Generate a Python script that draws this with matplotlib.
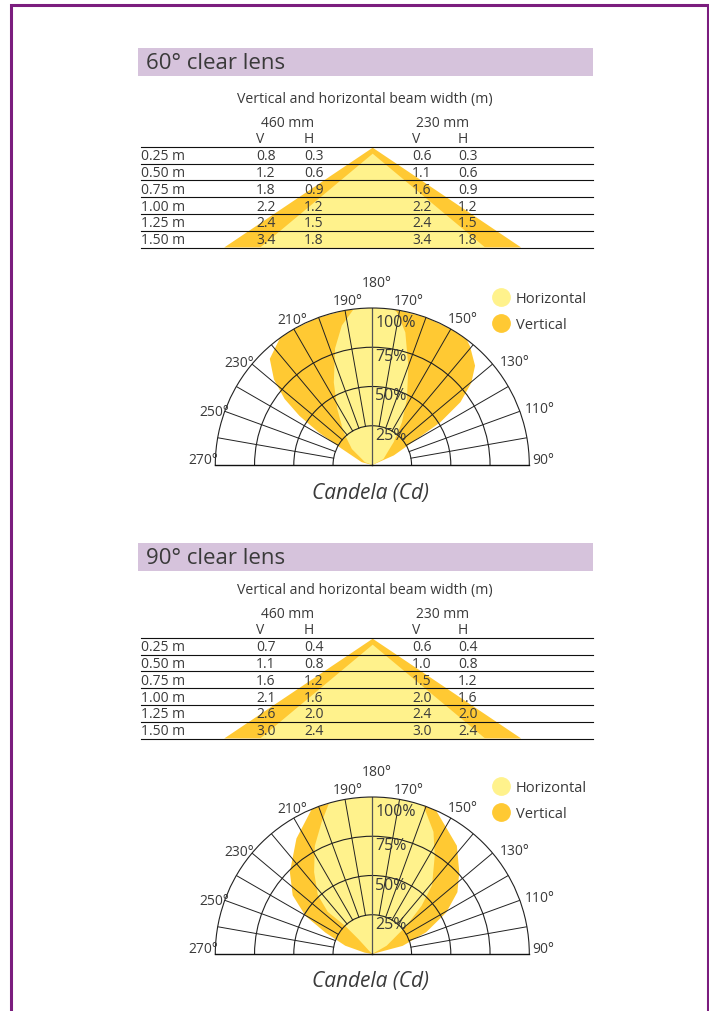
import numpy as np
import matplotlib
matplotlib.use('Agg')
import matplotlib.pyplot as plt
from matplotlib.patches import Polygon, Rectangle
from matplotlib.lines import Line2D
from matplotlib.transforms import offset_copy

plt.rcParams['font.family'] = ['Open Sans', 'DejaVu Sans']

# ---- table data (beam width in m) ----
distances = ["0.25 m", "0.50 m", "0.75 m", "1.00 m", "1.25 m", "1.50 m"]

lens60_460_v = [0.8, 1.2, 1.8, 2.2, 2.4, 3.4]
lens60_460_h = [0.3, 0.6, 0.9, 1.2, 1.5, 1.8]
lens60_230_v = [0.6, 1.1, 1.6, 2.2, 2.4, 3.4]
lens60_230_h = [0.3, 0.6, 0.9, 1.2, 1.5, 1.8]

lens90_460_v = [0.7, 1.1, 1.6, 2.1, 2.6, 3.0]
lens90_460_h = [0.4, 0.8, 1.2, 1.6, 2.0, 2.4]
lens90_230_v = [0.6, 1.0, 1.5, 2.0, 2.4, 3.0]
lens90_230_h = [0.4, 0.8, 1.2, 1.6, 2.0, 2.4]

# ---- candela distributions (angle in deg, intensity in %) ----
lens60_vert_theta = [90, 114, 120.2, 122.1, 125.5, 129.7, 134, 140.6, 143, 150, 160, 170, 180,
                     190, 200, 210, 216, 224, 229, 233, 236, 238.7, 242, 255, 270]
lens60_vert_r = [0, 15, 33, 51, 69, 82, 91, 98, 100, 100, 100, 100, 100,
                 100, 100, 100, 100, 94, 83, 70, 56, 40, 22, 7, 0]

lens60_horz_theta = [90, 118, 137, 145.2, 152.3, 160, 166, 170.8, 172, 180,
                     186.8, 192.3, 197.7, 205, 212, 221, 232, 249, 270]
lens60_horz_r = [0, 8, 20, 33, 47.5, 67, 87, 98.5, 100, 100,
                 100, 91, 78, 58, 42, 28, 16.5, 5, 0]

lens90_vert_theta = [90, 105, 112, 119.3, 126, 133.2, 142, 156, 160, 170, 180, 190, 200,
                     202.7, 213.3, 225.2, 233.6, 240.3, 245.4, 253, 260, 270]
lens90_vert_r = [0, 20, 37, 54, 67, 76, 87.5, 100, 100, 100, 100, 100, 100,
                 100, 88, 74, 63, 49, 33, 18, 5, 0]

lens90_horz_theta = [90, 120, 129.5, 134.4, 139, 147.5, 153.4, 161, 170, 180, 190,
                     196, 201, 208, 215.4, 222.8, 226.6, 224, 223, 225, 270]
lens90_horz_r = [0, 10.6, 28, 44, 58, 74, 87, 100, 100, 100, 100,
                 100, 90, 78, 64, 51, 39, 25, 13, 3, 0]

angle_labels = [90, 110, 130, 150, 170, 180, 190, 210, 230, 250, 270]
ring_labels = [25, 50, 75, 100]

# where each angle label sits (theta deg, radius %)
label_spot = {90: (92, 109), 110: (108.5, 112.6), 130: (126, 112), 150: (148.2, 109.5),
              170: (167.6, 107), 180: (178.6, 116), 190: (188.4, 105.6), 210: (208.7, 106),
              230: (232.3, 107), 250: (251.2, 106.5), 270: (268, 107.6)}

TXT = '#3a3a3a'
LIGHT = '#fff28c'
DARK = '#ffc933'
PURPLE = '#7b1d7e'
BAR = '#d6c3dc'

W, H = 709, 1012
fig = plt.figure(figsize=(W / 100, H / 100), dpi=100)
ax0 = fig.add_axes([0, 0, 1, 1])
ax0.set_xlim(0, W)
ax0.set_ylim(H, 0)
ax0.axis('off')

# page frame
ax0.plot([10.7, 10.7, 707.5, 707.5], [H + 5, 5.5, 5.5, H + 5], color=PURPLE, lw=2.2,
         solid_joinstyle='miter', clip_on=False)


def table_section(title, bar_top, line0, v460, h460, v230, h230):
    ax0.add_patch(Rectangle((138, bar_top), 455, 28, color=BAR, lw=0))
    ax0.text(146.5, bar_top + 14.5, title, fontsize=16, color=TXT, va='center', ha='left')
    ax0.text(365, line0 - 48, "Vertical and horizontal beam width (m)", fontsize=10.2,
             color=TXT, ha='center', va='center')
    ax0.text(288, line0 - 24, "460 mm", fontsize=10, color=TXT, ha='center', va='center')
    ax0.text(443, line0 - 24, "230 mm", fontsize=10, color=TXT, ha='center', va='center')
    cols = [256, 304, 412, 458]
    for x, lab in zip(cols, ["V", "H", "V", "H"]):
        ax0.text(x, line0 - 8, lab, fontsize=10, color=TXT, ha='left', va='center')

    step = 16.8
    ys = line0 + step * np.arange(len(distances) + 1)
    # beam triangles behind the table
    apex = 372.7
    ax0.add_patch(Polygon([(apex, line0 + 1), (apex - 148.5, ys[-1]), (apex + 148.5, ys[-1])],
                          closed=True, color=DARK, lw=0, zorder=1))
    ax0.add_patch(Polygon([(apex, line0 + 7), (apex - 112.5, ys[-1]), (apex + 112.5, ys[-1])],
                          closed=True, color=LIGHT, lw=0, zorder=1.1))
    for y in ys:
        ax0.plot([141, 593], [y, y], color='#111111', lw=0.8, zorder=2)
    for i, d in enumerate(distances):
        yc = (ys[i] + ys[i + 1]) / 2 + 0.5
        ax0.text(141, yc, d, fontsize=10, color=TXT, ha='left', va='center', zorder=3)
        for x, vals in zip(cols, [v460, h460, v230, h230]):
            ax0.text(x, yc, f"{vals[i]:.1f}", fontsize=10, color=TXT, ha='left', va='center',
                     zorder=3)


def polar_section(cy, v_theta, v_r, h_theta, h_r):
    R = 157
    cx = 372.3
    # half-wedge polar axes gets centred inside a square box
    axp = fig.add_axes([(cx - R) / W, 1 - (cy + R / 2) / H, 2 * R / W, 2 * R / H],
                       projection='polar')
    axp.set_theta_zero_location('S')
    axp.set_theta_direction(1)
    axp.set_thetamin(90)
    axp.set_thetamax(270)
    axp.set_ylim(0, 100)
    axp.patch.set_alpha(0)

    axp.fill(np.deg2rad(v_theta), v_r, color=DARK, lw=0, zorder=1)
    axp.fill(np.deg2rad(h_theta), h_r, color=LIGHT, lw=0, zorder=1.1)

    axp.set_xticks([])
    axp.set_yticks([25, 50, 75])
    axp.set_yticklabels([])
    axp.yaxis.grid(True, color='#222222', lw=0.8)
    axp.xaxis.grid(False)
    for a in range(100, 270, 10):
        if a == 180:
            axp.plot([np.pi, np.pi], [0, 100], color='#555555', lw=0.9, zorder=2)
        else:
            axp.plot(np.deg2rad([a, a]), [25, 100], color='#222222', lw=0.7, zorder=2)
    axp.spines['polar'].set(color='#222222', lw=0.8)
    axp.spines['start'].set(color='#111111', lw=1.0)
    axp.spines['end'].set(color='#111111', lw=1.0)
    axp.spines['inner'].set_visible(False)

    for a in angle_labels:
        th, r = label_spot[a]
        axp.text(np.deg2rad(th), r, f"{a}°", fontsize=10, color=TXT, ha='center',
                 va='center', clip_on=False)

    tr = offset_copy(axp.transData, fig=fig, x=3, y=-1, units='dots')
    for p in ring_labels:
        rr = p - 3 if p == 100 else p
        axp.text(np.pi, rr, f"{p}%", fontsize=11.5, color=TXT, ha='left', va='top',
                 transform=tr, clip_on=False)

    ax0.text(370, cy + 27, "Candela (Cd)", fontsize=15, style='italic', color=TXT,
             ha='center', va='center')

    handles = [Line2D([], [], marker='o', ls='', markersize=12.5, color=LIGHT, label='Horizontal'),
               Line2D([], [], marker='o', ls='', markersize=12.5, color=DARK, label='Vertical')]
    axp.legend(handles=handles, loc='upper left', bbox_to_anchor=(494, cy - 174),
               bbox_transform=ax0.transData, frameon=False, fontsize=10.5, labelcolor=TXT,
               handlelength=1.0, handletextpad=0.5, labelspacing=0.75, borderpad=0,
               borderaxespad=0)


table_section("60° clear lens", 49, 147.7, lens60_460_v, lens60_460_h, lens60_230_v, lens60_230_h)
polar_section(466, lens60_vert_theta, lens60_vert_r, lens60_horz_theta, lens60_horz_r)

table_section("90° clear lens", 544, 638.7, lens90_460_v, lens90_460_h, lens90_230_v, lens90_230_h)
polar_section(955, lens90_vert_theta, lens90_vert_r, lens90_horz_theta, lens90_horz_r)

fig.savefig('out.png', dpi=100)
